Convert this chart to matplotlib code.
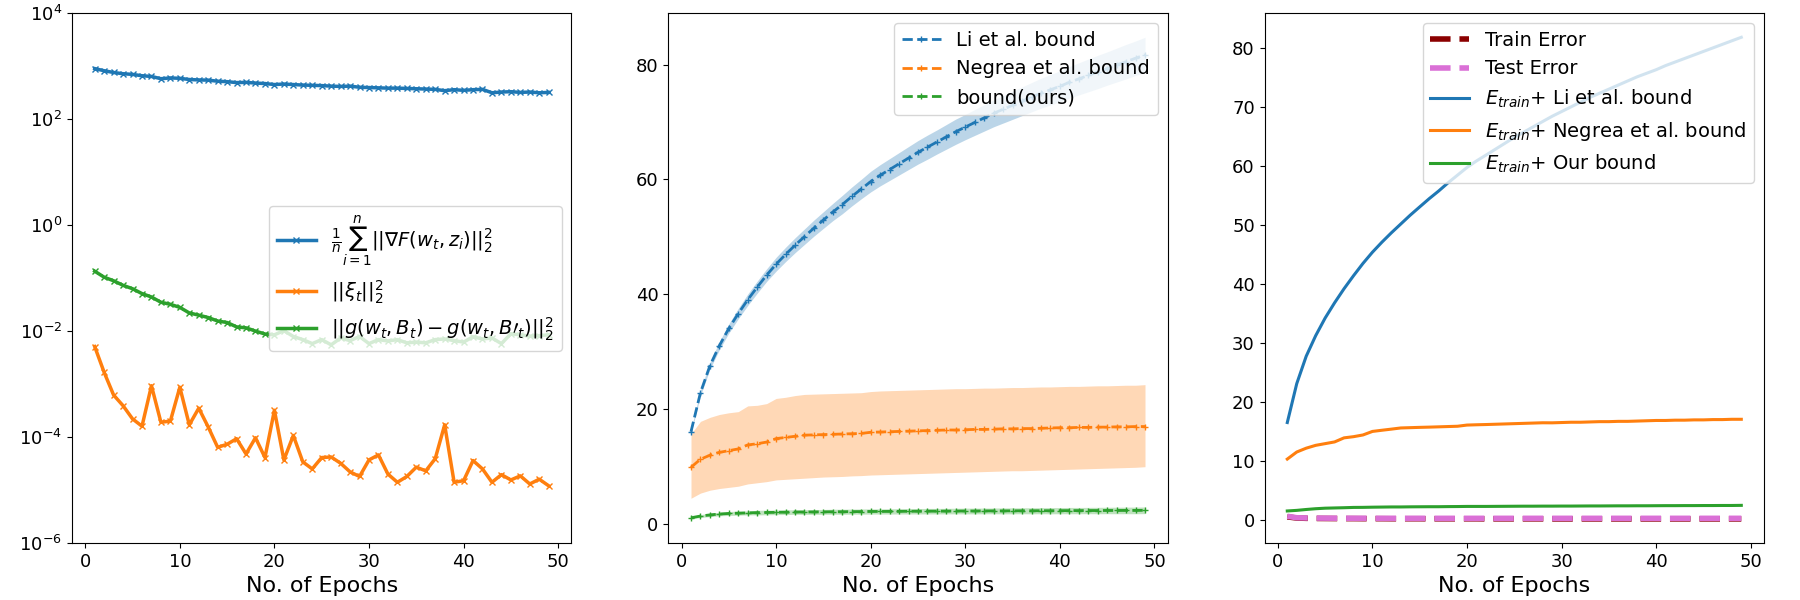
import numpy as np
import matplotlib
matplotlib.use("Agg")
import matplotlib.pyplot as plt
from matplotlib.ticker import NullLocator

epochs = list(range(1, 50))

# panel 1: norms (log scale)
grad_norm = [900, 820, 760, 720, 700, 660, 640, 580, 600, 590,
             560, 550, 545, 520, 510, 490, 495, 480, 470, 450,
             460, 450, 440, 435, 430, 420, 415, 420, 400, 395,
             390, 385, 385, 380, 375, 370, 365, 345, 360, 350,
             360, 365, 315, 325, 330, 320, 325, 315, 320]
xi_norm = [5.1e-3, 1.66e-3, 6.2e-4, 3.9e-4, 2.2e-4, 1.6e-4, 9.3e-4, 1.9e-4, 2.0e-4, 8.7e-4,
           1.7e-4, 3.5e-4, 1.55e-4, 6.4e-5, 7.3e-5, 9.3e-5, 4.8e-5, 9.7e-5, 4.1e-5, 3.2e-4,
           3.7e-5, 1.07e-4, 3.4e-5, 2.5e-5, 4.1e-5, 4.2e-5, 3.2e-5, 2.2e-5, 1.8e-5, 3.7e-5,
           4.6e-5, 2.0e-5, 1.4e-5, 1.8e-5, 2.7e-5, 2.3e-5, 3.9e-5, 1.7e-4, 1.4e-5, 1.5e-5,
           3.6e-5, 2.5e-5, 1.4e-5, 1.95e-5, 1.55e-5, 1.85e-5, 1.3e-5, 1.6e-5, 1.2e-5]
g_diff = [0.135, 0.104, 0.089, 0.073, 0.063, 0.051, 0.044, 0.035, 0.032, 0.028,
          0.022, 0.020, 0.018, 0.0155, 0.0145, 0.012, 0.0115, 0.010, 0.0088, 0.0085,
          0.0102, 0.0079, 0.0069, 0.0058, 0.0069, 0.0055, 0.0074, 0.0066, 0.0079, 0.0058,
          0.0069, 0.0065, 0.0069, 0.0060, 0.0062, 0.0060, 0.0069, 0.0071, 0.0066, 0.0062,
          0.0078, 0.0071, 0.0074, 0.0058, 0.0089, 0.0085, 0.0080, 0.0082, 0.0085]

# panel 2: bounds with spread
li_mean = [16.0, 22.8, 27.5, 31.0, 34.0, 36.6, 39.0, 41.2, 43.3, 45.2,
           46.9, 48.5, 50.0, 51.5, 52.9, 54.3, 55.6, 57.0, 58.3, 59.6,
           60.7, 61.7, 62.7, 63.7, 64.7, 65.6, 66.5, 67.4, 68.3, 69.1,
           69.9, 70.7, 71.5, 72.2, 72.9, 73.6, 74.3, 75.0, 75.6, 76.2,
           76.9, 77.5, 78.1, 78.7, 79.3, 79.9, 80.5, 81.1, 81.7]
li_std = [0.3, 0.5, 0.6, 0.7, 0.8, 0.9, 1.0, 1.05, 1.1, 1.2,
          1.25, 1.3, 1.35, 1.4, 1.45, 1.5, 1.6, 1.65, 1.7, 1.8,
          1.85, 1.9, 1.95, 2.0, 2.05, 2.1, 2.1, 2.15, 2.2, 2.2,
          2.25, 2.3, 2.35, 2.4, 2.45, 2.5, 2.55, 2.6, 2.65, 2.7,
          2.75, 2.8, 2.85, 2.9, 2.9, 2.95, 3.0, 3.0, 3.05]
negrea_mean = [9.8, 11.2, 11.9, 12.4, 12.7, 13.0, 13.7, 13.9, 14.2, 14.8,
               15.0, 15.2, 15.4, 15.45, 15.5, 15.55, 15.6, 15.65, 15.7, 15.9,
               15.95, 16.0, 16.05, 16.1, 16.15, 16.2, 16.25, 16.3, 16.3, 16.35,
               16.4, 16.4, 16.45, 16.5, 16.5, 16.55, 16.55, 16.6, 16.65, 16.7,
               16.7, 16.75, 16.75, 16.8, 16.8, 16.85, 16.85, 16.9, 16.9]
negrea_upper = [15.6, 17.8, 18.5, 19.0, 19.3, 19.5, 20.5, 20.6, 20.9, 21.8,
                22.0, 22.3, 22.5, 22.55, 22.6, 22.65, 22.7, 22.75, 22.8, 23.0,
                23.1, 23.15, 23.2, 23.25, 23.3, 23.35, 23.4, 23.45, 23.5, 23.5,
                23.55, 23.6, 23.6, 23.65, 23.7, 23.7, 23.75, 23.8, 23.8, 23.85,
                23.9, 23.9, 23.95, 24.0, 24.0, 24.05, 24.1, 24.1, 24.2]
negrea_lower = [4.4, 5.3, 5.8, 6.1, 6.3, 6.5, 6.9, 7.1, 7.3, 7.6,
                7.7, 7.8, 7.9, 8.0, 8.1, 8.15, 8.2, 8.3, 8.35, 8.45,
                8.5, 8.55, 8.6, 8.65, 8.7, 8.75, 8.8, 8.85, 8.9, 8.95,
                9.0, 9.05, 9.1, 9.15, 9.2, 9.2, 9.25, 9.3, 9.35, 9.4,
                9.45, 9.5, 9.55, 9.6, 9.65, 9.7, 9.75, 9.8, 9.9]
ours_mean = [1.0, 1.3, 1.5, 1.65, 1.75, 1.8, 1.85, 1.9, 1.92, 1.95,
             1.97, 2.0, 2.0, 2.02, 2.03, 2.05, 2.05, 2.07, 2.08, 2.1,
             2.1, 2.11, 2.12, 2.13, 2.14, 2.15, 2.15, 2.16, 2.17, 2.18,
             2.18, 2.19, 2.2, 2.2, 2.21, 2.22, 2.22, 2.23, 2.23, 2.24,
             2.25, 2.25, 2.26, 2.26, 2.27, 2.27, 2.28, 2.28, 2.3]
ours_std = [0.2, 0.25, 0.3, 0.3, 0.35, 0.35, 0.35, 0.4, 0.4, 0.4,
            0.4, 0.4, 0.42, 0.42, 0.42, 0.44, 0.44, 0.44, 0.45, 0.45,
            0.45, 0.46, 0.46, 0.47, 0.47, 0.48, 0.48, 0.48, 0.49, 0.5,
            0.5, 0.5, 0.5, 0.52, 0.52, 0.52, 0.53, 0.53, 0.54, 0.54,
            0.55, 0.55, 0.55, 0.56, 0.56, 0.57, 0.57, 0.58, 0.58]

# panel 3: errors
train_err = [0.45, 0.25, 0.2, 0.18, 0.17, 0.16, 0.15, 0.15, 0.14, 0.14,
             0.14, 0.13, 0.13, 0.13, 0.13, 0.12, 0.12, 0.12, 0.12, 0.12,
             0.12, 0.11, 0.11, 0.11, 0.11, 0.11, 0.11, 0.11, 0.1, 0.1,
             0.1, 0.1, 0.1, 0.1, 0.1, 0.1, 0.1, 0.1, 0.1, 0.1,
             0.1, 0.1, 0.1, 0.1, 0.1, 0.1, 0.1, 0.1, 0.1]
test_err = [0.55, 0.3, 0.26, 0.24, 0.23, 0.22, 0.22, 0.21, 0.21, 0.21,
            0.2, 0.2, 0.2, 0.2, 0.2, 0.2, 0.2, 0.2, 0.2, 0.2,
            0.2, 0.2, 0.2, 0.2, 0.2, 0.2, 0.2, 0.2, 0.2, 0.2,
            0.2, 0.2, 0.2, 0.2, 0.2, 0.2, 0.2, 0.2, 0.2, 0.2,
            0.2, 0.2, 0.2, 0.2, 0.2, 0.2, 0.2, 0.2, 0.2]

x = np.array(epochs)
colors = plt.rcParams["axes.prop_cycle"].by_key()["color"]

fig, axes = plt.subplots(1, 3, figsize=(18, 6), dpi=100)
fig.subplots_adjust(left=0.04, right=0.98, bottom=0.095, top=0.978, wspace=0.194)

# ---- left: log norms
ax = axes[0]
ax.plot(x, grad_norm, marker="x", markersize=5, linewidth=2.5, color=colors[0],
        label=r"$\frac{1}{n}\sum_{i=1}^{n}||\nabla F(w_t, z_i)||_2^2$")
ax.plot(x, xi_norm, marker="x", markersize=5, linewidth=2.5, color=colors[1],
        label=r"$||\xi_t||_2^2$")
ax.plot(x, g_diff, marker="x", markersize=5, linewidth=2.5, color=colors[2],
        label=r"$||g(w_t, B_t) - g(w_t, B\prime_t)||_2^2$")
ax.set_yscale("log")
ax.set_ylim(1e-6, 1e4)
ax.set_yticks([1e-6, 1e-4, 1e-2, 1e0, 1e2, 1e4])
ax.yaxis.set_minor_locator(NullLocator())
ax.legend(loc="center right", fontsize=14)

# ---- middle: bounds with bands
ax = axes[1]
li_m = np.array(li_mean)
li_s = np.array(li_std)
ou_m = np.array(ours_mean)
ou_s = np.array(ours_std)
ax.plot(x, li_mean, "--", marker="+", markersize=4, linewidth=2, color=colors[0],
        label="Li et al. bound")
ax.fill_between(x, li_m - li_s, li_m + li_s, color=colors[0], alpha=0.3, linewidth=0)
ax.plot(x, negrea_mean, "--", marker="+", markersize=4, linewidth=2, color=colors[1],
        label="Negrea et al. bound")
ax.fill_between(x, negrea_lower, negrea_upper, color=colors[1], alpha=0.3, linewidth=0)
ax.plot(x, ours_mean, "--", marker="+", markersize=4, linewidth=2, color=colors[2],
        label="bound(ours)")
ax.fill_between(x, ou_m - ou_s, ou_m + ou_s, color=colors[2], alpha=0.3, linewidth=0)
ax.set_yticks([0, 20, 40, 60, 80])
ax.legend(loc="upper right", fontsize=14)

# ---- right: train error + bounds
ax = axes[2]
tr = np.array(train_err)
ax.plot(x, train_err, "--", linewidth=4, color="darkred", label="Train Error")
ax.plot(x, test_err, "--", linewidth=4, color="orchid", label="Test Error")
ax.plot(x, tr + li_m, linewidth=2.2, color=colors[0],
        label=r"$E_{train}$+ Li et al. bound")
ax.plot(x, tr + np.array(negrea_mean), linewidth=2.2, color=colors[1],
        label=r"$E_{train}$+ Negrea et al. bound")
ax.plot(x, tr + ou_m, linewidth=2.2, color=colors[2],
        label=r"$E_{train}$+ Our bound")
ax.legend(loc="upper right", fontsize=14)

for ax in axes:
    ax.set_xlabel("No. of Epochs", fontsize=16)
    ax.set_xticks([0, 10, 20, 30, 40, 50])
    ax.tick_params(axis="both", which="major", labelsize=13)

plt.savefig("out.png", dpi=100)
